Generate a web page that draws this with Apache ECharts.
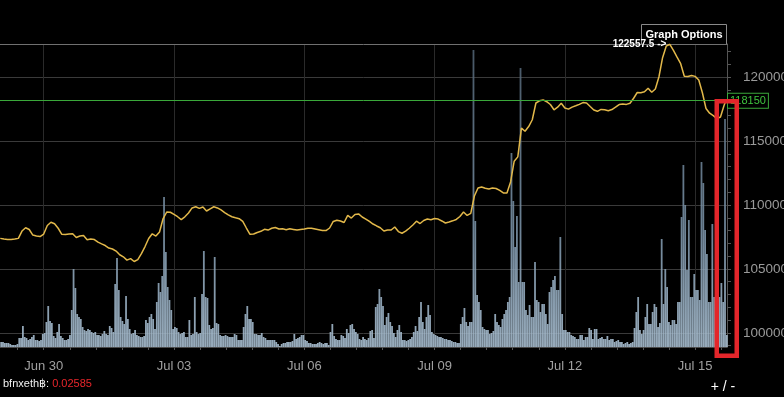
<!DOCTYPE html>
<html>
<head>
<meta charset="utf-8">
<script src="https://cdn.jsdelivr.net/npm/echarts@6/dist/echarts.min.js"></script>
<style>
html, body { margin: 0; padding: 0; background: #000; }
#main { width: 784px; height: 397px; }
</style>
</head>
<body>
<div id="main"></div>
<script>
// hours since Jun 29 00:00, axis window
var xMin = -0.15;
var xMax = 401.6;
var xLabelHours = [24, 96, 168, 240, 312, 384];
var xLabels = ['Jun 30', 'Jul 03', 'Jul 06', 'Jul 09', 'Jul 12', 'Jul 15'];
var yLabels = [100000, 105000, 110000, 115000, 120000];
var lastPrice = 118150;
var pairName = 'bfnxeth฿: ';
var pairValue = '0.02585';

// close price, one point every 2 hours
var price = [
  107390,107340,107310,107310,107340,107390,107960,108220,108080,107650,
  107570,107530,107730,108400,108650,108530,108180,107710,107690,107730,
  107750,107460,107570,107610,107280,107340,107300,107100,106960,106830,
  106630,106560,106400,106110,105950,105690,105810,105580,105730,106200,
  106750,107380,107750,107570,107890,108940,109450,109430,109260,109080,
  108860,109075,109370,109770,109860,109730,109840,109530,109700,109860,
  109770,109610,109410,109220,109080,109000,108930,108720,108200,107710,
  107730,107850,107940,108100,108040,108180,108240,108120,108140,108070,
  108140,108090,108040,108090,108120,108180,108180,108120,108060,108000,
  108000,108200,108710,108810,108750,108630,109180,108980,109260,109300,
  109060,108900,108710,108510,108360,108220,107960,108040,108040,108280,
  107920,107790,107950,108180,108430,108730,108550,108790,108900,108850,
  108940,108900,108750,108590,108670,108760,108870,109100,109450,109180,
  109340,110700,111330,111410,111310,111250,111330,111290,111140,110940,
  110940,111800,113420,113760,116010,115760,116130,116660,117970,118140,
  118210,118070,117850,117440,117640,117950,117580,117490,117650,117750,
  117860,118000,117970,117690,117420,117320,117470,117440,117360,117460,
  117640,117850,117890,117860,117950,118340,118790,118770,118850,119120,
  118810,119060,120020,121510,122410,122557.5,122080,121550,121040,120060,
  120040,120120,120050,119770,118770,117540,117170,116980,116750,116870,
  117790
];

// hourly volume
var volA = [
  50,50,40,40,40,30,20,20,20,30,
  90,90,210,100,90,70,80,100,120,70,
  70,60,70,130,140,250,410,260,240,110,
  90,150,230,110,90,70,70,80,120,370,
  780,590,330,300,280,200,170,160,180,170,
  150,140,150,120,120,110,130,160,130,120,
  210,190,150,630,890,570,300,260,230,510,
  280,180,130,140,170,120,110,100,100,110,
  270,240,300,330,280,180,450,640,550,710,
  1500,950,600,470,370,180,200,190,150,130
];
var volB = [
  140,150,100,100,270,120,130,500,150,130,
  140,530,960,500,490,220,180,190,900,240,
  230,120,110,110,120,110,100,100,100,130,
  120,70,70,70,200,330,410,280,280,250,
  130,130,120,120,140,100,90,70,70,70,
  70,70,50,30,10,30,40,40,50,50,
  50,60,130,80,90,100,120,120,70,60,
  40,40,30,30,30,40,50,40,30,40,
  40,20,150,230,110,80,70,70,120,110,
  90,180,140,220,230,180,150,130,80,70
];
var volC = [
  100,80,70,90,160,170,90,400,430,580,
  500,410,220,300,340,250,210,140,100,170,
  220,150,70,70,60,70,80,100,150,210,
  160,300,450,250,180,300,420,320,150,130,
  120,110,100,100,90,80,80,70,70,60,
  50,50,40,40,230,300,390,250,210,250,
  250,2970,1260,520,450,370,200,180,170,170,
  130,140,160,330,250,220,200,280,330,370,
  450,500,1940,1460,1000,1310,650,2790,650,650,
  370,320,420,300,300,850,470,450,350,430
];
var volD = [
  430,330,230,550,600,670,710,570,570,1100,
  330,170,170,150,150,120,110,100,80,80,
  120,120,70,100,100,190,170,80,180,180,
  80,90,100,80,80,110,70,80,80,50,
  60,70,50,50,30,40,50,30,40,50,
  190,350,500,170,130,170,300,430,230,230,
  350,430,400,200,240,1080,430,780,600,250,
  220,270,270,230,450,450,1300,1820,1420,770,
  1270,500,500,730,570,570,470,1850,1640,1170,
  930,450,450,1230,500,400,630,500,640,450,
  2280,120
];

var volume = volA.concat(volB, volC, volD);
var font = '"Liberation Sans", Arial, sans-serif';

var xMinorTicks = [];
for (var t = xLabelHours[0] - 14.4; t < xMax; t += 14.4) {
	xMinorTicks.push(Math.round(t * 10) / 10);
}
var yMinorTicks = [];
for (var p = 99000; p <= 122000; p += 1000) {
	yMinorTicks.push(p);
}

var chart = echarts.init(document.getElementById('main'));

var option = {
	backgroundColor: '#000',
	animation: false,
	grid: { left: 0, right: 57, top: 44, bottom: 50, outerBoundsMode: 'none', containLabel: false },
	xAxis: [
		{
			type: 'value', min: xMin, max: xMax, position: 'bottom',
			axisLine: { show: true, onZero: false, lineStyle: { color: '#4a4a4a' } },
			axisTick: { show: false, customValues: xLabelHours },
			axisLabel: {
				customValues: xLabelHours,
				formatter: function (v) {
					var i = xLabelHours.indexOf(v);
					return i < 0 ? '' : xLabels[i];
				},
				color: '#a0a0a0', fontSize: 13, margin: 13, fontFamily: font
			},
			splitLine: { show: true, lineStyle: { color: '#2a2a2a' } }
		},
		{
			// small ticks under the axis
			type: 'value', min: xMin, max: xMax, position: 'bottom',
			axisLine: { show: false, onZero: false },
			axisTick: { show: true, customValues: xMinorTicks, length: 3, lineStyle: { color: '#555' } },
			axisLabel: { show: false },
			splitLine: { show: false }
		},
		{
			// top border line
			type: 'value', min: xMin, max: xMax, position: 'top',
			axisLine: { show: true, onZero: false, lineStyle: { color: '#707070' } },
			axisTick: { show: false },
			axisLabel: { show: false },
			splitLine: { show: false }
		}
	],
	yAxis: [
		{
			type: 'value', min: 98900, max: 122580, position: 'right',
			axisLine: { show: true, onZero: false, lineStyle: { color: '#555' } },
			axisTick: { show: false, customValues: yLabels },
			axisLabel: {
				customValues: yLabels, color: '#9a9a9a', fontSize: 13.5,
				margin: 16, fontFamily: font, align: 'left',
				formatter: function (v) { return String(v); }
			},
			splitLine: { show: true, lineStyle: { color: '#3a3a3a' } }
		},
		{
			type: 'value', min: 98900, max: 122580, position: 'right',
			axisLine: { show: false, onZero: false },
			axisTick: { show: true, customValues: yMinorTicks, length: 4, lineStyle: { color: '#555' } },
			axisLabel: { show: false },
			splitLine: { show: false }
		},
		{
			type: 'value', min: 0, max: 3030, show: false
		}
	],
	series: [
		{
			name: 'Volume',
			type: 'bar',
			xAxisIndex: 0,
			yAxisIndex: 2,
			barWidth: 1.8,
			data: volume.map(function (v, i) { return [i + 0.5, v]; }),
			itemStyle: {
				opacity: 0.9,
				color: new echarts.graphic.LinearGradient(0, 44, 0, 347, [
					{ offset: 0, color: '#4d5e6e' },
					{ offset: 0.6, color: '#7890a5' },
					{ offset: 1, color: '#a9bfd1' }
				], true)
			}
		},
		{
			name: 'Price',
			type: 'line',
			xAxisIndex: 0,
			yAxisIndex: 0,
			showSymbol: false,
			data: price.map(function (v, i) { return [i * 2, v]; }).concat([[401, lastPrice]]),
			lineStyle: { color: '#e2b84a', width: 1.5 },
			markLine: {
				silent: true,
				symbol: 'none',
				lineStyle: { color: '#3aa83a', width: 1, type: 'solid' },
				label: {
					show: true, position: 'end', distance: 1,
					formatter: '{c}', color: '#3ec43e', fontSize: 11, fontFamily: font,
					backgroundColor: '#000', borderColor: '#3aa83a', borderWidth: 1,
					padding: [2, 2, 1, 2]
				},
				data: [{ yAxis: lastPrice }]
			},
			markPoint: {
				symbol: 'circle',
				symbolSize: 1,
				itemStyle: { color: 'transparent' },
				label: {
					show: true, position: 'left', distance: 3,
					formatter: function (p) { return p.value + ' ->'; },
					color: '#fff', fontWeight: 'bold', fontSize: 10, fontFamily: font
				},
				data: [{ type: 'max' }]
			}
		}
	],
	graphic: [
		{
			type: 'rect', z: 0,
			shape: { x: 641.5, y: 24.5, width: 85, height: 20 },
			style: { fill: '#000', stroke: '#8a8a8a', lineWidth: 1 }
		},
		{
			type: 'text', z: 1, x: 684, y: 34.5,
			style: {
				text: 'Graph Options', fill: '#fff',
				font: 'bold 11px ' + font, align: 'center', verticalAlign: 'middle'
			}
		},
		{
			type: 'rect', z: 102,
			shape: { x: 716.75, y: 101.25, width: 20, height: 254.5 },
			style: { fill: 'none', stroke: '#e3262b', lineWidth: 4.5 }
		},
		{
			type: 'text', z: 101, x: 3, y: 384,
			style: {
				text: '{a|' + pairName + '}{b|' + pairValue + '}',
				verticalAlign: 'middle',
				rich: {
					a: { fill: '#f0f0f0', font: '11px ' + font },
					b: { fill: '#e8262b', font: '11px ' + font }
				}
			}
		},
		{
			type: 'text', z: 101, x: 723, y: 387,
			style: {
				text: '+ / -', fill: '#fff', font: '14px ' + font,
				align: 'center', verticalAlign: 'middle'
			}
		}
	]
};

chart.setOption(option);
</script>
</body>
</html>
